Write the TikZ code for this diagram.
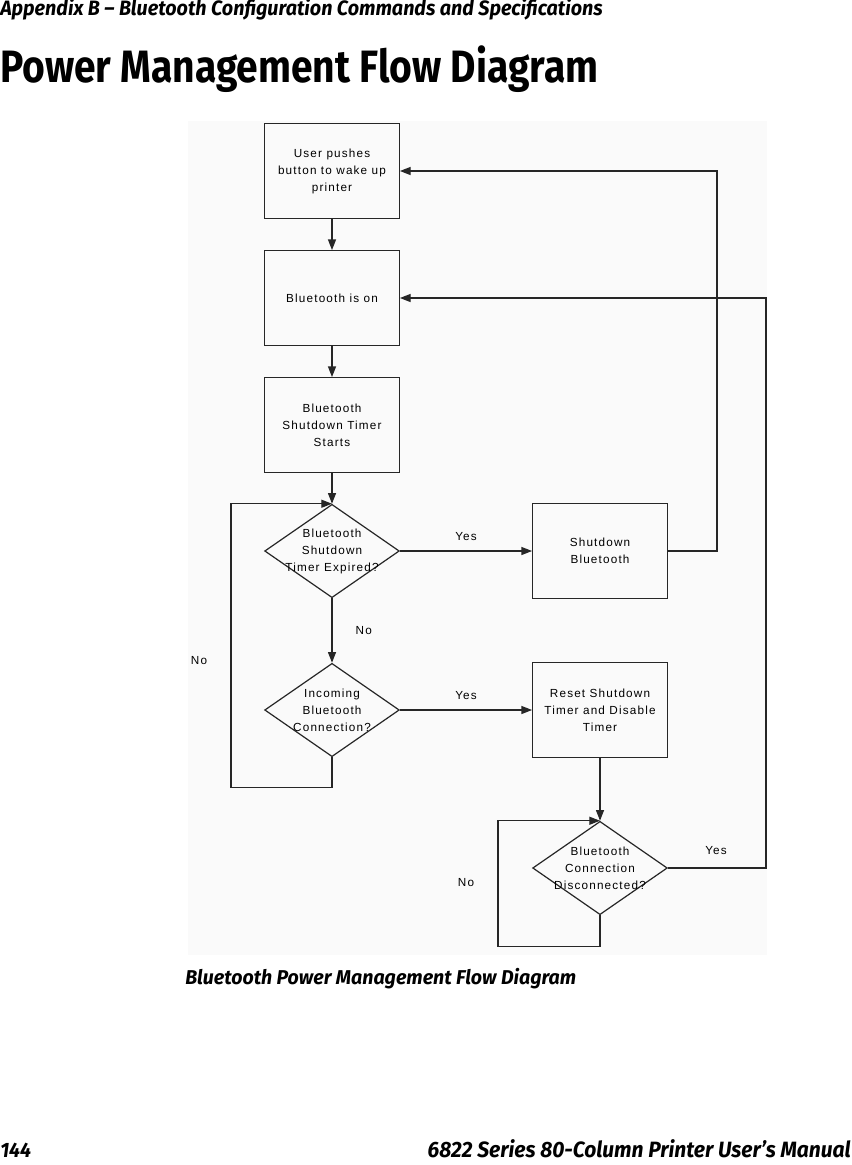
\documentclass[tikz,border=0pt]{standalone}
\usepackage{fontspec}
\setmainfont{Liberation Sans}
\newfontfamily\flowfont[LetterSpace=10]{Liberation Sans}
\newfontfamily\headfont[FakeStretch=0.95]{Fira Sans}
\newfontfamily\titlefont[FakeStretch=0.86]{Fira Sans}
\newfontfamily\capfont[FakeStretch=0.98]{Fira Sans}
\usetikzlibrary{arrows.meta,shapes.geometric}

\begin{document}
\begin{tikzpicture}[x=0.75pt,y=-0.75pt,>={Triangle[length=8pt,width=6pt]},
  flow/.style={draw=black!85,line width=0.9pt},
  stepbox/.style={flow,rectangle,minimum width=101pt,minimum height=71pt,inner sep=0pt},
  decision/.style={flow,diamond,minimum width=101pt,minimum height=70pt,inner sep=0pt},
  txt/.style={font=\flowfont\fontsize{8.8}{12.75}\selectfont,align=center},
  lbl/.style={font=\flowfont\fontsize{8.8}{10}\selectfont},
  head/.style={inner sep=0pt,font=#1}]
  \useasboundingbox (0,0) rectangle (851,1165);
  % page text
  \node[head=\headfont\bfseries\itshape\fontsize{15.6}{16}\selectfont,anchor=base west] (hdr) at (0,15) {Appendix B – Bluetooth Configuration Commands and Specifications};
  \node[head=\titlefont\bfseries\fontsize{34}{34}\selectfont,anchor=base west] (ttl) at (0,82) {Power Management Flow Diagram};
  \node[head=\capfont\bfseries\itshape\fontsize{15}{16}\selectfont,anchor=base west] (cap) at (185,984) {Bluetooth Power Management Flow Diagram};
  \node[head=\headfont\bfseries\itshape\fontsize{15.6}{16}\selectfont,anchor=base west] (pg) at (0,1157) {144};
  \node[head=\headfont\bfseries\itshape\fontsize{16.6}{17}\selectfont,anchor=base east] (man) at (851,1157) {6822 Series 80-Column Printer User’s Manual};
  % diagram panel
  \fill[black!2] (188,121) rectangle (767,955);
  % boxes
  \node[stepbox] (wake) at (332,171) {};
  \node[stepbox] (bton) at (332,298) {};
  \node[stepbox] (tmst) at (332,425) {};
  \node[decision] (expd) at (332,551) {};
  \node[stepbox] (shut) at (600,551) {};
  \node[decision] (incm) at (332,710) {};
  \node[stepbox] (rset) at (600,710) {};
  \node[decision] (disc) at (600,868) {};
  % texts
  \node[txt] (wakeT) at (wake) {User pushes\\button to wake up\\printer};
  \node[txt] (btonT) at (bton) {Bluetooth is on};
  \node[txt] (tmstT) at (tmst) {Bluetooth\\Shutdown Timer\\Starts};
  \node[txt] (expdT) at (expd) {Bluetooth\\Shutdown\\Timer Expired?};
  \node[txt] (shutT) at (shut) {Shutdown\\Bluetooth};
  \node[txt] (incmT) at (incm) {Incoming\\Bluetooth\\Connection?};
  \node[txt] (rsetT) at (rset) {Reset Shutdown\\Timer and Disable\\Timer};
  \node[txt] (discT) at (disc) {Bluetooth\\Connection\\Disconnected?};
  % connectors
  \draw[flow,->] (wake) -- (bton);
  \draw[flow,->] (bton) -- (tmst);
  \draw[flow,->] (tmst) -- (expd);
  \draw[flow,->] (expd) -- node[lbl,above=4pt] (y1) {Yes} (shut);
  \draw[flow,->] (expd) -- node[lbl,right=14pt] (n1) {No} (incm);
  \draw[flow,->] (incm) -- node[lbl,above=4pt] (y2) {Yes} (rset);
  \draw[flow,->] (rset) -- (disc);
  \draw[flow,->] (shut.east) -- ++(49,0) |- (wake.east);
  \draw[flow,->] (disc.east) -- ++(98,0) |- (bton.east);
  \draw[flow,->] (incm.south) -- ++(0,30) -- ++(-101,0) |- (expd.north);
  \draw[flow,->] (disc.south) -- ++(0,31) -- ++(-102,0) |- (disc.north);
  \node[lbl] (y3) at (716,851) {Yes};
  \node[lbl] (n2) at (199,661) {No};
  \node[lbl] (n3) at (466,883) {No};
\end{tikzpicture}
\end{document}
